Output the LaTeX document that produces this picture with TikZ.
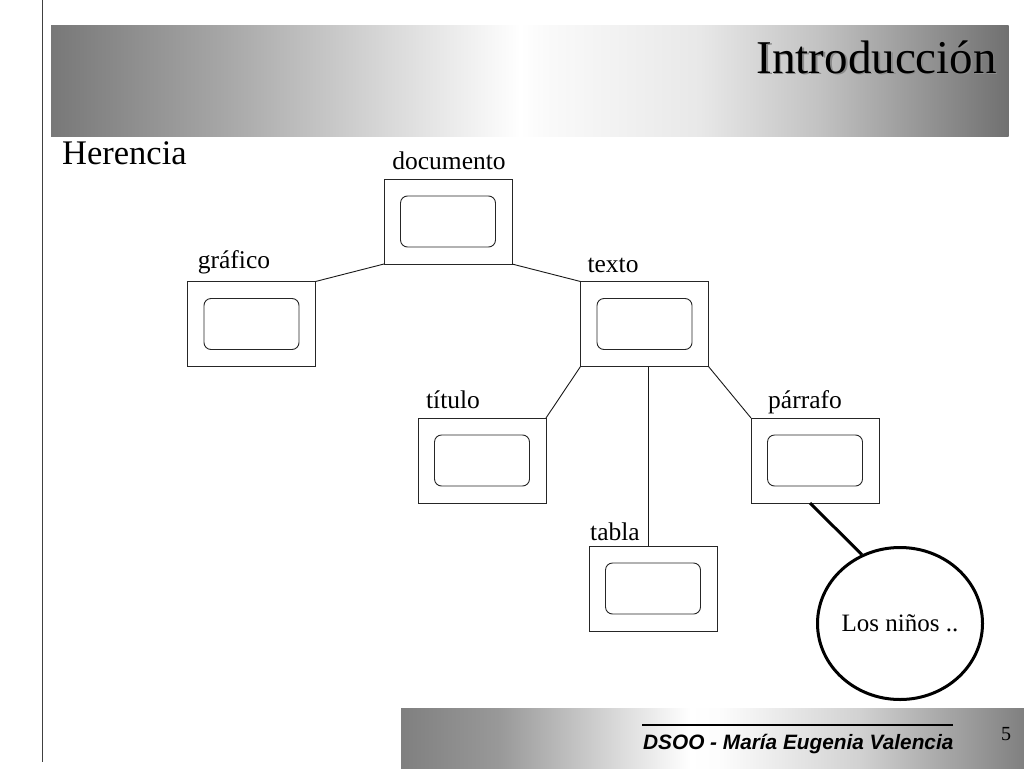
\documentclass[tikz,border=0pt]{standalone}
\usepackage{fontspec}
\setmainfont{Liberation Serif}
\newfontfamily\footfont{Liberation Sans}
\usetikzlibrary{shapes.geometric,calc}
\tikzset{
  outerbox/.style={draw=black!85, line width=0.9pt, minimum width=128pt, minimum height=85pt, inner sep=0pt, outer sep=0pt},
  innerbox/.style={draw=black!85, line width=0.9pt, rounded corners=7pt, minimum width=95pt, minimum height=51pt, inner sep=0pt},
  lbl/.style={font=\fontsize{25.5}{29}\selectfont, inner sep=0pt, anchor=base},
  conn/.style={draw=black!90, line width=0.9pt},
  thickconn/.style={draw=black, line width=3pt},
}
\begin{document}
\begin{tikzpicture}[x=1pt,y=-1pt]
\useasboundingbox (0,0) rectangle (1024,768);
\fill[white] (0,0) rectangle (1024,768);
% header band
\foreach \xa/\ga/\xb/\gb in {51/47/230/66, 230/66/380/84, 380/84/520/100, 520/100/545/98, 545/98/700/91, 700/91/820/76, 820/76/1008/44}
  \shade[left color=white!\ga!black, right color=white!\gb!black] (\xa,25.5) rectangle (\xb+0.6,136);
% footer band
\foreach \xa/\ga/\xb/\gb in {401/50/500/60, 500/60/620/86, 620/86/690/100, 690/100/720/99, 720/99/860/82, 860/82/1024/50}
  \shade[left color=white!\ga!black, right color=white!\gb!black] (\xa,708) rectangle (\xb+0.6,768);
% left vertical rule
\draw[black!75, line width=1.5pt] (42.5,0) -- (42.5,762);
% title with shadow
\node[font=\fontsize{47}{50}\selectfont, text=black!45, inner sep=0pt, anchor=base east] (titleshadow) at (998.5,74.5) {Introducción};
\node[font=\fontsize{47}{50}\selectfont, inner sep=0pt, anchor=base east] (title) at (997,73) {Introducción};
\node[font=\fontsize{34.5}{38}\selectfont, inner sep=0pt, anchor=base west] (herencia) at (62,164) {Herencia};
% boxes
\node[outerbox] (doc) at (448,221.5) {};
\node[innerbox] (doci) at (doc) {};
\node[outerbox] (graf) at (251.5,324) {};
\node[innerbox] (grafi) at (graf) {};
\node[outerbox] (texto) at (644.5,324) {};
\node[innerbox] (textoi) at (texto) {};
\node[outerbox] (tit) at (482,460.5) {};
\node[innerbox] (titi) at (tit) {};
\node[outerbox] (par) at (815,460.5) {};
\node[innerbox] (pari) at (par) {};
\node[outerbox] (tabla) at (653,588.5) {};
\node[innerbox] (tablai) at (tabla) {};
\node[ellipse, draw=black, line width=3pt, minimum width=161pt, minimum height=152pt, inner sep=0pt, font=\fontsize{25}{28}\selectfont] (ninos) at (900,623.5) {Los niños ..};
% labels
\node[lbl] (ldoc) at (449,169) {documento};
\node[lbl] (lgraf) at (234,268) {gráfico};
\node[lbl] (ltexto) at (613,272) {texto};
\node[lbl] (ltit) at (453,408) {título};
\node[lbl] (lpar) at (805,408) {párrafo};
\node[lbl] (ltabla) at (615,540) {tabla};
% connectors
\draw[conn] (doc.south west) -- (graf.north east);
\draw[conn] (doc.south east) -- (texto.north west);
\draw[conn] (texto.south west) -- (tit.north east);
\draw[conn] (texto.south east) -- (par.north west);
\draw[conn] ([xshift=3.5pt]texto.south) -- ([xshift=3.5pt]texto.south |- tabla.north);
\draw[thickconn] ([xshift=-5pt]par.south) -- (ninos.119);
% footer text
\draw[black, line width=1.2pt] (642,725) -- (953,725);
\node[font=\footfont\bfseries\itshape\fontsize{20.8}{24}\selectfont, inner sep=0pt, anchor=base west] (foot) at (643,749) {DSOO - María Eugenia Valencia};
\node[font=\fontsize{20}{22}\selectfont, inner sep=0pt, anchor=base] (pnum) at (1006,740) {5};
\end{tikzpicture}
\end{document}
